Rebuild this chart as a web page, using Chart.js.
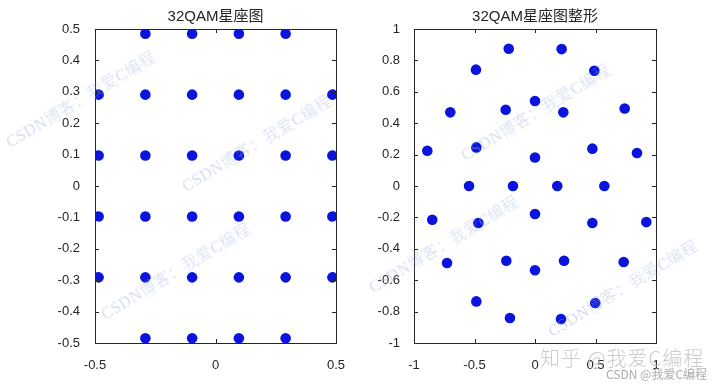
<!DOCTYPE html>
<html>
<head>
<meta charset="utf-8">
<script src="https://cdn.jsdelivr.net/npm/chart.js@4"></script>
<style>
    body { margin: 0; background: #fff; width: 726px; height: 386px; position: relative; overflow: hidden; }
    .box { position: absolute; top: 0; width: 363px; height: 386px; }
    .wm {
        position: absolute;
        white-space: nowrap;
        font-family: "Liberation Serif", "Noto Sans CJK SC", serif;
        font-size: 16px;
        font-weight: 300;
        letter-spacing: 0.5px;
        color: rgba(150, 172, 222, 0.42);
        transform: translate(-50%, -50%) rotate(-31deg);
        pointer-events: none;
    }
    .zhihu {
        position: absolute;
        left: 540px;
        top: 343px;
        white-space: nowrap;
        font-family: "Noto Sans CJK SC", sans-serif;
        font-size: 20px;
        font-weight: 300;
        letter-spacing: 1px;
        color: rgba(190, 190, 190, 0.8);
    }
    .csdn {
        position: absolute;
        left: 606px;
        top: 365px;
        white-space: nowrap;
        font-family: "Noto Sans CJK SC", sans-serif;
        font-size: 12px;
        color: #ababab;
    }
</style>
</head>
<body>
<div class="box" style="left:0"><canvas id="qam" width="363" height="386"></canvas></div>
<div class="box" style="left:363px"><canvas id="shaped" width="363" height="386"></canvas></div>

<span class="wm" style="left:80px;top:98px">CSDN博客：我爱C编程</span>
<span class="wm" style="left:256px;top:142px">CSDN博客：我爱C编程</span>
<span class="wm" style="left:175px;top:270px">CSDN博客：我爱C编程</span>
<span class="wm" style="left:443px;top:243px">CSDN博客：我爱C编程</span>
<span class="wm" style="left:535px;top:111px">CSDN博客：我爱C编程</span>
<span class="wm" style="left:622px;top:287px">CSDN博客：我爱C编程</span>
<span class="zhihu">知乎 @我爱C编程</span>
<span class="csdn">CSDN @我爱C编程</span>

<script>
// 32QAM constellation (left)
const qamX = [
    -0.291, -0.097, 0.097, 0.291,
    -0.485, -0.291, -0.097, 0.097, 0.291, 0.485,
    -0.485, -0.291, -0.097, 0.097, 0.291, 0.485,
    -0.485, -0.291, -0.097, 0.097, 0.291, 0.485,
    -0.485, -0.291, -0.097, 0.097, 0.291, 0.485,
    -0.291, -0.097, 0.097, 0.291,
];
const qamY = [
    0.485, 0.485, 0.485, 0.485,
    0.291, 0.291, 0.291, 0.291, 0.291, 0.291,
    0.097, 0.097, 0.097, 0.097, 0.097, 0.097,
    -0.097, -0.097, -0.097, -0.097, -0.097, -0.097,
    -0.291, -0.291, -0.291, -0.291, -0.291, -0.291,
    -0.485, -0.485, -0.485, -0.485,
];

// shaped constellation (right)
const shapedX = [
    -0.217, 0.22,
    -0.488, 0.49,
    -0.70, -0.242, 0.0, 0.234, 0.741,
    -0.89, -0.485, 0.0, 0.474, 0.843,
    -0.545, -0.182, 0.184, 0.573,
    -0.849, -0.468, 0.0, 0.474, 0.92,
    -0.727, -0.237, 0.0, 0.24, 0.733,
    -0.485, 0.498,
    -0.207, 0.215,
];
const shapedY = [
    0.874, 0.872,
    0.741, 0.734,
    0.469, 0.486, 0.541, 0.469, 0.494,
    0.225, 0.246, 0.182, 0.238, 0.21,
    0.0, 0.0, 0.0, 0.0,
    -0.215, -0.236, -0.178, -0.236, -0.23,
    -0.49, -0.476, -0.537, -0.476, -0.484,
    -0.735, -0.745,
    -0.841, -0.847,
];

const leftXTicks = [-0.5, 0, 0.5];
const leftYTicks = [-0.5, -0.4, -0.3, -0.2, -0.1, 0, 0.1, 0.2, 0.3, 0.4, 0.5];
const rightXTicks = [-1, -0.5, 0, 0.5, 1];
const rightYTicks = [-1, -0.8, -0.6, -0.4, -0.2, 0, 0.2, 0.4, 0.6, 0.8, 1];

const axisColor = "#262626";
const dotColor = "#0a14dc";
const fontFamily = '"Liberation Sans", Arial, "Noto Sans CJK SC", sans-serif';

// box around the axes with the ticks pointing inwards, like matlab
const boxTicks = {
    id: "boxTicks",
    afterDraw(chart) {
        const { ctx, chartArea: a, scales } = chart;
        const len = 4;
        ctx.save();
        ctx.strokeStyle = axisColor;
        ctx.lineWidth = 1;
        ctx.strokeRect(a.left + 0.5, a.top + 0.5, a.right - a.left, a.bottom - a.top);
        ctx.beginPath();
        scales.x.ticks.forEach((t) => {
            const px = Math.round(scales.x.getPixelForValue(t.value)) + 0.5;
            ctx.moveTo(px, a.bottom);
            ctx.lineTo(px, a.bottom - len);
            ctx.moveTo(px, a.top);
            ctx.lineTo(px, a.top + len);
        });
        scales.y.ticks.forEach((t) => {
            const py = Math.round(scales.y.getPixelForValue(t.value)) + 0.5;
            ctx.moveTo(a.left, py);
            ctx.lineTo(a.left + len, py);
            ctx.moveTo(a.right, py);
            ctx.lineTo(a.right - len, py);
        });
        ctx.stroke();
        ctx.restore();
    },
};

function fmt(v) {
    return String(Number(v.toFixed(2)));
}

function makeChart(id, title, xs, ys, xTicks, yTicks, yWidth, padRight, yPad) {
    const points = xs.map((x, i) => ({ x: x, y: ys[i] }));
    return new Chart(document.getElementById(id), {
        type: "scatter",
        data: {
            datasets: [
                {
                    data: points,
                    backgroundColor: dotColor,
                    borderWidth: 0,
                    pointRadius: 5.3,
                    pointHoverRadius: 5.3,
                },
            ],
        },
        options: {
            responsive: false,
            animation: false,
            layout: { padding: { left: 0, right: padRight, top: 0, bottom: 0 } },
            plugins: {
                legend: { display: false },
                tooltip: { enabled: false },
                title: {
                    display: true,
                    text: title,
                    fullSize: false,
                    color: axisColor,
                    font: { family: fontFamily, size: 15, weight: "normal" },
                    padding: { top: 8, bottom: 3 },
                },
            },
            scales: {
                x: {
                    type: "linear",
                    min: xTicks[0],
                    max: xTicks[xTicks.length - 1],
                    afterBuildTicks: (s) => { s.ticks = xTicks.map((v) => ({ value: v })); },
                    afterFit: (s) => { s.height = 43; },
                    grid: { display: false },
                    border: { display: false },
                    ticks: {
                        color: axisColor,
                        padding: 7,
                        maxRotation: 0,
                        font: { family: fontFamily, size: 13 },
                        callback: fmt,
                    },
                },
                y: {
                    type: "linear",
                    min: yTicks[0],
                    max: yTicks[yTicks.length - 1],
                    afterBuildTicks: (s) => { s.ticks = yTicks.map((v) => ({ value: v })); },
                    afterFit: (s) => { s.width = yWidth; },
                    grid: { display: false },
                    border: { display: false },
                    ticks: {
                        color: axisColor,
                        padding: yPad,
                        font: { family: fontFamily, size: 13 },
                        callback: fmt,
                    },
                },
            },
        },
        plugins: [boxTicks],
    });
}

makeChart("qam", "32QAM星座图", qamX, qamY, leftXTicks, leftYTicks, 95, 27, 7);
makeChart("shaped", "32QAM星座图整形", shapedX, shapedY, rightXTicks, rightYTicks, 51, 70, 6);
</script>
</body>
</html>
